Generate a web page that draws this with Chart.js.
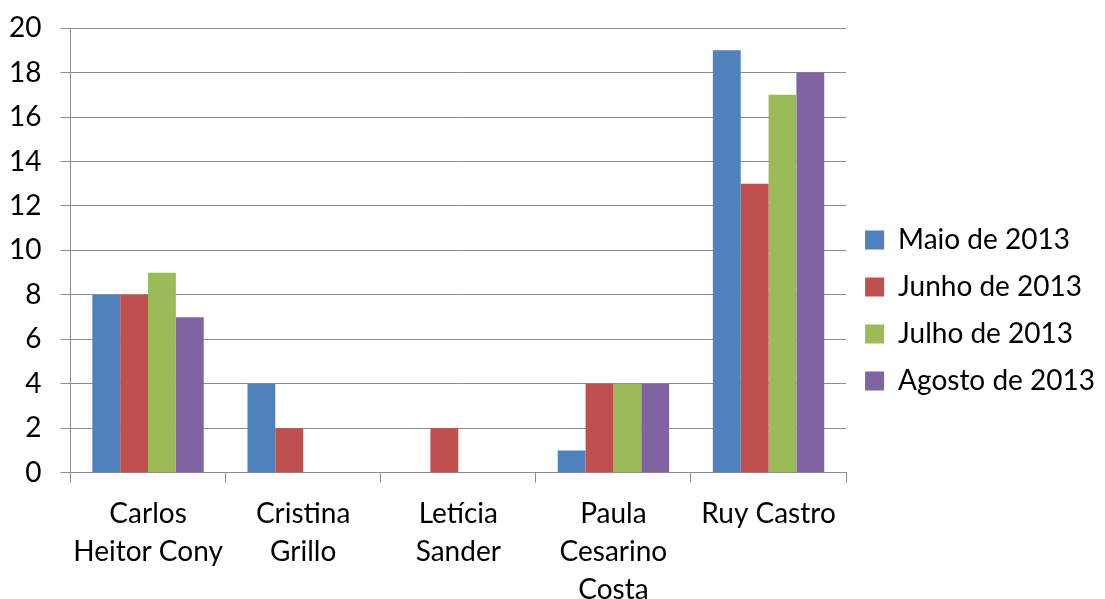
<!DOCTYPE html>
<html>
<head>
<meta charset="utf-8">
<script src="https://cdn.jsdelivr.net/npm/chart.js@4"></script>
<style>
    body { margin: 0; background: #fff; }
    #wrap { width: 1105px; height: 599px; }
</style>
</head>
<body>
<div id="wrap"><canvas id="barChart"></canvas></div>
<script>
const categories = [
    ['Carlos', 'Heitor Cony'],
    ['Cristina', 'Grillo'],
    ['Letícia', 'Sander'],
    ['Paula', 'Cesarino', 'Costa'],
    ['Ruy Castro']
];
const seriesNames = ['Maio de 2013', 'Junho de 2013', 'Julho de 2013', 'Agosto de 2013'];
const maio = [8, 4, 0, 1, 19];
const junho = [8, 2, 2, 4, 13];
const julho = [9, 0, 0, 4, 17];
const agosto = [7, 0, 0, 4, 18];
const colors = ['#4F81BD', '#C0504D', '#9BBB59', '#8064A2'];

const font = { family: 'Lato', size: 28 };
const gridColor = '#8c8c8c';

const ctx = document.getElementById('barChart').getContext('2d');

let barChart = new Chart(ctx, {
    type: 'bar',
    data: {
        labels: categories,
        datasets: [maio, junho, julho, agosto].map((values, i) => ({
            label: seriesNames[i],
            data: values,
            backgroundColor: colors[i],
            borderWidth: 0,
            categoryPercentage: 0.718,
            barPercentage: 1
        }))
    },
    options: {
        responsive: true,
        maintainAspectRatio: false,
        animation: false,
        layout: {
            padding: { left: -10, top: 0, right: 0, bottom: -22 }
        },
        plugins: {
            legend: {
                position: 'right',
                labels: {
                    font: font,
                    color: '#000',
                    boxWidth: 19,
                    boxHeight: 19,
                    padding: 19
                }
            },
            tooltip: { enabled: false }
        },
        scales: {
            x: {
                grid: {
                    drawOnChartArea: false,
                    drawTicks: true,
                    tickLength: 10,
                    color: gridColor
                },
                border: { color: gridColor },
                ticks: {
                    font: { family: 'Lato', size: 28, lineHeight: 1.36 },
                    color: '#000',
                    padding: 12,
                    maxRotation: 0,
                    autoSkip: false
                }
            },
            y: {
                min: 0,
                max: 20,
                grid: {
                    color: gridColor,
                    tickLength: 10
                },
                border: { color: gridColor },
                ticks: {
                    stepSize: 2,
                    font: { family: 'Lato', size: 28, lineHeight: 0.65 },
                    color: '#000',
                    padding: 19
                }
            }
        }
    }
});
</script>
</body>
</html>
